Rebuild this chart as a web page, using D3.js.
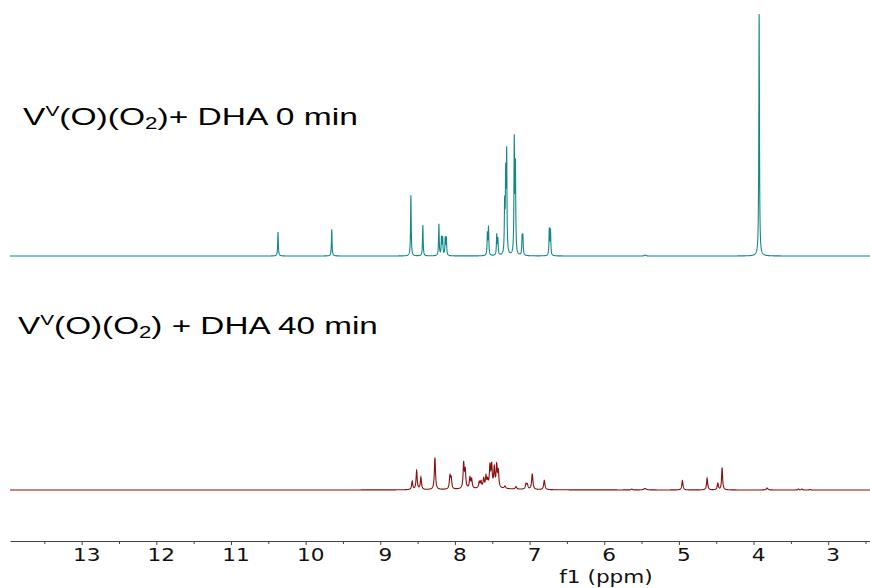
<!DOCTYPE html>
<html>
<head>
<meta charset="utf-8">
<script src="https://cdn.jsdelivr.net/npm/d3@7"></script>
<style>
  body { margin: 0; background: #fff; }
  svg { display: block; }
</style>
</head>
<body>
<svg id="chart" width="870" height="588"></svg>
<script>
// peak lists: [ppm, intensity (tallest = 100), half width in ppm]
const peaks0min = [
  [10.37, 9.9, 0.005], [9.65, 11.0, 0.005],
  [8.59, 25.1, 0.005], [8.43, 12.8, 0.005],
  [8.215, 13.0, 0.005], [8.18, 7.2, 0.005], [8.165, 7.2, 0.005],
  [8.13, 7.2, 0.005], [8.115, 7.2, 0.005],
  [7.565, 9.0, 0.005], [7.55, 11.6, 0.005],
  [7.44, 8.5, 0.005], [7.425, 6.7, 0.005],
  [7.334, 20.0, 0.005], [7.32, 31.0, 0.005], [7.307, 40.5, 0.005],
  [7.205, 46.5, 0.005], [7.19, 35.5, 0.005],
  [7.10, 7.3, 0.005], [7.09, 7.7, 0.005],
  [6.736, 10.9, 0.005], [6.72, 10.5, 0.005],
  [5.45, 0.4, 0.01],
  [3.925, 100, 0.005]
];

const peaks40min = [
  [8.572, 3.4, 0.009], [8.513, 7.8, 0.009], [8.456, 5.0, 0.009],
  [8.268, 13.2, 0.009],
  [8.067, 5.2, 0.009], [8.05, 4.4, 0.009],
  [7.883, 10.2, 0.009], [7.862, 7.2, 0.009],
  [7.799, 4.4, 0.009], [7.776, 3.6, 0.009],
  [7.674, 2.5, 0.009], [7.651, 2.6, 0.009],
  [7.615, 3.8, 0.009], [7.584, 4.5, 0.009], [7.562, 2.7, 0.009],
  [7.531, 8.6, 0.009], [7.508, 9.0, 0.009],
  [7.473, 7.9, 0.009], [7.441, 8.8, 0.009], [7.419, 6.6, 0.009],
  [7.33, 1.0, 0.012], [7.182, 1.0, 0.012],
  [7.048, 2.1, 0.01], [7.03, 1.8, 0.01],
  [6.964, 6.5, 0.01], [6.803, 3.8, 0.01],
  [7.55, 0.6, 0.35],
  [5.631, 0.4, 0.008], [5.453, 0.6, 0.02],
  [4.953, 3.9, 0.009], [4.622, 4.8, 0.009],
  [4.479, 2.7, 0.009], [4.421, 9.2, 0.008],
  [3.818, 0.8, 0.012],
  [3.398, 0.4, 0.008], [3.353, 0.4, 0.008], [3.241, 0.2, 0.008]
];

const majorTicks = [13, 12, 11, 10, 9, 8, 7, 6, 5, 4, 3];
const minorTicks = [13.5, 12.5, 11.5, 10.5, 9.5, 8.5, 7.5, 6.5, 5.5, 4.5, 3.5, 2.5];

const svg = d3.select("#chart");

const x = d3.scaleLinear().domain([13.96, 2.44]).range([10, 870]);
const yTop = d3.scaleLinear().domain([0, 100]).range([256, 14]);
const yBottom = d3.scaleLinear().domain([0, 100]).range([490, 248]);

// build the spectrum line from its peak list (Lorentzian lines)
function spectrum(peaks) {
  const grid = d3.range(2.44, 13.96, 0.002);
  peaks.forEach(p => grid.push(p[0]));
  grid.sort((a, b) => b - a);
  return grid.map(v => {
    let s = 0;
    peaks.forEach(([c, h, w]) => {
      const d = (v - c) / w;
      s += h / (1 + d * d);
    });
    return [v, s];
  });
}

svg.append("path")
  .datum(spectrum(peaks0min))
  .attr("fill", "none")
  .attr("stroke", "#138787")
  .attr("stroke-width", 1.1)
  .attr("d", d3.line().x(d => x(d[0])).y(d => yTop(d[1])));

svg.append("path")
  .datum(spectrum(peaks40min))
  .attr("fill", "none")
  .attr("stroke", "#8b0c0c")
  .attr("stroke-width", 1.1)
  .attr("d", d3.line().x(d => x(d[0])).y(d => yBottom(d[1])));

// axis
const axisY = 541;
svg.append("g")
  .attr("transform", `translate(0,${axisY})`)
  .call(d3.axisBottom(x).tickValues(minorTicks).tickSize(3).tickSizeOuter(0).tickFormat(""))
  .call(g => g.select(".domain").attr("stroke", "#444"))
  .call(g => g.selectAll(".tick line").attr("stroke", "#444"));

svg.append("g")
  .attr("transform", `translate(0,${axisY})`)
  .call(d3.axisBottom(x).tickValues(majorTicks).tickSize(4).tickSizeOuter(0).tickFormat(d3.format("d")))
  .call(g => g.select(".domain").remove())
  .call(g => g.selectAll(".tick line").attr("stroke", "#444"))
  .call(g => g.selectAll(".tick text")
    .attr("fill", "#111")
    .attr("y", 6)
    .attr("dy", "0.76em")
    .attr("transform", "translate(4.5,0) scale(1.2,1)")
    .style("font-family", "'DejaVu Sans', Verdana, sans-serif")
    .style("font-size", "18px"));

svg.append("text")
  .attr("transform", "translate(606,583) scale(1.2,1)")
  .attr("text-anchor", "middle")
  .attr("fill", "#111")
  .style("font-family", "'DejaVu Sans', Verdana, sans-serif")
  .style("font-size", "18px")
  .text("f1 (ppm)");

// spectrum labels, stretched to the width they take in the picture
function label(x0, y0, width, tail) {
  const t = svg.append("text")
    .attr("fill", "#000")
    .style("font-family", "'Liberation Sans', Arial, sans-serif")
    .style("font-size", "24px");
  t.append("tspan").text("V");
  t.append("tspan").attr("dy", -9).style("font-size", "15px").text("V");
  t.append("tspan").attr("dy", 9).text("(O)(O");
  t.append("tspan").attr("dy", 4).style("font-size", "16px").text("2");
  t.append("tspan").attr("dy", -4).text(tail);
  const w = t.node().getBBox().width;
  t.attr("transform", `translate(${x0},${y0}) scale(${width / w},1)`);
}

label(23, 125, 335, ")+ DHA 0 min");
label(18, 334, 360, ") + DHA 40 min");
</script>
</body>
</html>
